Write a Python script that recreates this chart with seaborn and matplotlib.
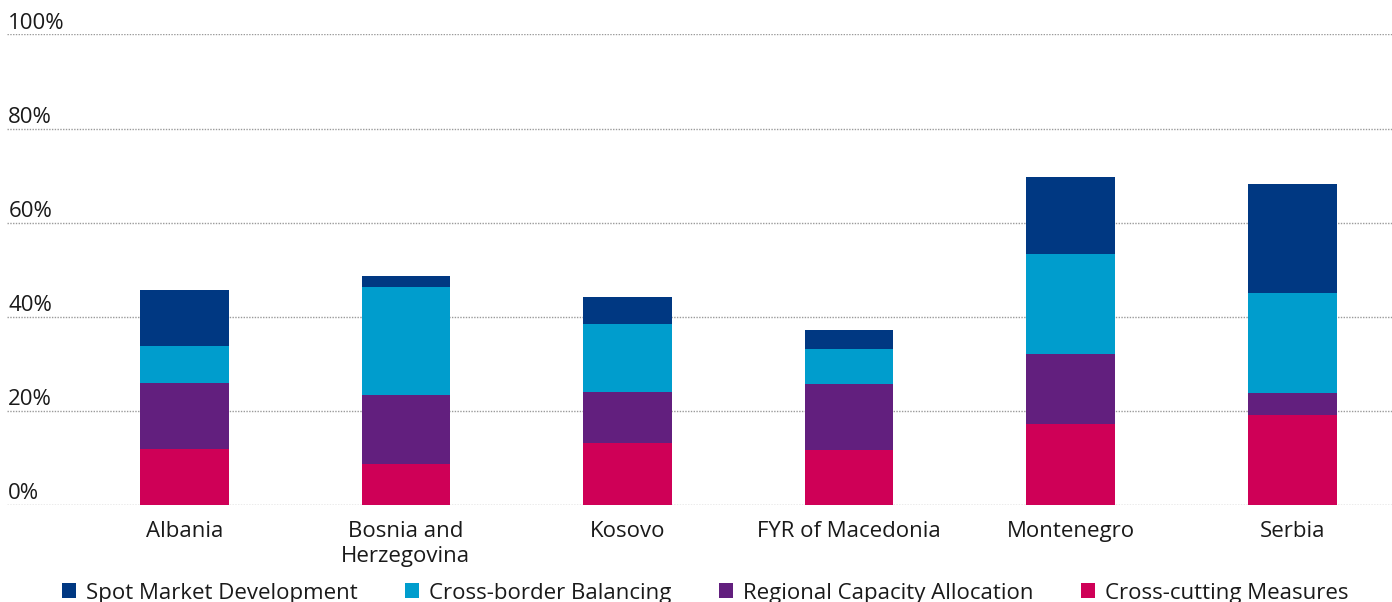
import matplotlib.pyplot as plt
import matplotlib.transforms as mtransforms
from matplotlib.patches import Patch
import pandas as pd
import seaborn as sns

countries = [
    "Albania",
    "Bosnia and\nHerzegovina",
    "Kosovo",
    "FYR of Macedonia",
    "Montenegro",
    "Serbia",
]
# share of each pillar, in percent, stacked bottom to top
cross_cutting = [11.9, 8.7, 13.1, 11.6, 17.2, 19.1]
regional_capacity = [14.0, 14.6, 10.9, 14.1, 14.9, 4.7]
cross_border = [7.9, 23.0, 14.4, 7.4, 21.3, 21.3]
spot_market = [11.9, 2.4, 5.8, 4.1, 16.4, 23.2]

series_names = [
    "Spot Market Development",
    "Cross-border Balancing",
    "Regional Capacity Allocation",
    "Cross-cutting Measures",
]
series_colors = ["#003882", "#009dcd", "#621f7e", "#cf0057"]
y_ticks = [0, 20, 40, 60, 80, 100]


def main() -> None:
    df = pd.DataFrame(
        {
            "country": countries,
            "cross_cutting": cross_cutting,
            "regional": regional_capacity,
            "cross_border": cross_border,
            "spot": spot_market,
        }
    )
    # cumulative tops, drawn tallest first so shorter layers cover them
    df["top_cc"] = df["cross_cutting"]
    df["top_reg"] = df["top_cc"] + df["regional"]
    df["top_cb"] = df["top_reg"] + df["cross_border"]
    df["top_spot"] = df["top_cb"] + df["spot"]
    layers = ["top_spot", "top_cb", "top_reg", "top_cc"]

    sns.set_theme(style="white")
    plt.rcParams["font.family"] = ["Open Sans", "DejaVu Sans"]
    text_color = "#1a1a1a"

    fig, ax = plt.subplots(figsize=(13.92, 6.02), dpi=100)
    fig.subplots_adjust(left=0.005, right=1.0, bottom=0.1616, top=0.9427)

    for col, color in zip(layers, series_colors):
        sns.barplot(
            data=df,
            x="country",
            y=col,
            color=color,
            saturation=1,
            width=0.4,
            errorbar=None,
            linewidth=0,
            ax=ax,
        )

    ax.set_xlim(-0.80, 5.45)
    ax.set_ylim(0, 100)
    ax.set_yticks(y_ticks)
    ax.set_yticklabels([])
    ax.yaxis.grid(True, color="#9a9a9a", linestyle=(0, (1, 1)), linewidth=1)
    ax.set_axisbelow(True)
    ax.tick_params(axis="y", length=0)
    ax.tick_params(axis="x", length=0, pad=12, labelsize=16, labelcolor=text_color)
    sns.despine(ax=ax, left=True, bottom=True)
    ax.set_xlabel("")
    ax.set_ylabel("")

    label_tr = mtransforms.blended_transform_factory(ax.transAxes, ax.transData)
    label_tr = label_tr + mtransforms.ScaledTranslation(0, 4 / 72, fig.dpi_scale_trans)
    for v in y_ticks:
        ax.text(0.001, v, f"{v}%", transform=label_tr, ha="left", va="baseline",
                fontsize=16, color=text_color, clip_on=False)

    handles = [Patch(facecolor=c, edgecolor="none") for c in series_colors]
    fig.legend(
        handles,
        series_names,
        loc="center",
        bbox_to_anchor=(705 / 1392, 9 / 602),
        ncol=4,
        frameon=False,
        fontsize=16,
        labelcolor=text_color,
        handlelength=0.63,
        handleheight=0.63,
        handletextpad=0.45,
        columnspacing=2.14,
        borderpad=0,
    )

    fig.savefig("out.png", dpi=100)
    plt.close(fig)


if __name__ == "__main__":
    main()
